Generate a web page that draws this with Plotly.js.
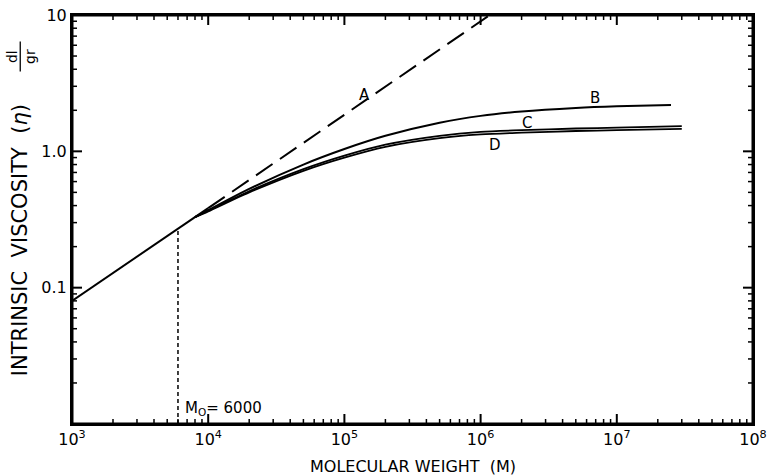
<!DOCTYPE html>
<html>
<head>
<meta charset="utf-8">
<script src="https://cdn.plot.ly/plotly-3.0.1.min.js"></script>
<style>html,body{margin:0;padding:0;background:#fff;}#chart{width:767px;height:476px;}</style>
</head>
<body>
<div id="chart"></div>
<script>
// Line A (Mark-Houwink straight line), solid part and dashed extension
const aSolidM = [1000, 10000];
const aSolidEta = [0.08, 0.383];
const aDashM = [10000, 1170000];
const aDashEta = [0.383, 10];

// Curve B
const bM = [8000, 10000, 20000, 50000, 100000, 200000, 500000, 1000000, 2000000, 5000000, 10000000, 25000000];
const bEta = [0.329, 0.37, 0.53, 0.80, 1.04, 1.30, 1.62, 1.82, 1.96, 2.08, 2.14, 2.19];

// Curve C
const cM = [8000, 10000, 20000, 50000, 100000, 200000, 500000, 1000000, 2000000, 5000000, 10000000, 30000000];
const cEta = [0.329, 0.367, 0.51, 0.74, 0.93, 1.12, 1.30, 1.39, 1.43, 1.47, 1.49, 1.53];

// Curve D
const dM = [8000, 10000, 20000, 50000, 100000, 200000, 500000, 1000000, 2000000, 5000000, 10000000, 30000000];
const dEta = [0.329, 0.363, 0.50, 0.72, 0.90, 1.08, 1.25, 1.33, 1.37, 1.41, 1.43, 1.46];

// Mo = 6000 marker
const moM = [6000, 6000];
const moEta = [0.01, 0.27];

const xTickVals = [1e3, 1e4, 1e5, 1e6, 1e7, 1e8];
const xTickText = ['10<sup>3</sup>', '10<sup>4</sup>', '10<sup>5</sup>', '10<sup>6</sup>', '10<sup>7</sup>', '10<sup>8</sup>'];
const yTickVals = [0.01, 0.1, 1, 10];
const yTickText = ['', '0.1', '1.0', '10'];

const X_RANGE = [3, 8];
const Y_RANGE = [-2, 1];
const W = 767, H = 476;
const M = {l: 72, r: 14, t: 15, b: 52};
const PW = W - M.l - M.r, PH = H - M.t - M.b;

// minor tick positions (2..9 within each decade)
function minorVals(startExp, endExp) {
  const v = [];
  for (let e = startExp; e < endExp; e++) {
    for (let k = 2; k <= 9; k++) v.push(k * Math.pow(10, e));
  }
  return v;
}

// inward tick marks on all four sides, one short two-point trace per mark
function tickTraces(xVals, yVals, lenPx, width) {
  const out = [];
  const dy = lenPx / PH * (Y_RANGE[1] - Y_RANGE[0]);
  const dx = lenPx / PW * (X_RANGE[1] - X_RANGE[0]);
  const yb = Math.pow(10, Y_RANGE[0]), yt = Math.pow(10, Y_RANGE[1]);
  const xl = Math.pow(10, X_RANGE[0]), xr = Math.pow(10, X_RANGE[1]);
  const ln = {color: '#000', width: width, simplify: false};
  function seg(x, y) { out.push({x: x, y: y, mode: 'lines', line: ln, hoverinfo: 'skip', cliponaxis: false}); }
  xVals.forEach(function(v) {
    const lv = Math.log10(v);
    if (lv <= X_RANGE[0] + 1e-6 || lv >= X_RANGE[1] - 1e-6) return;
    seg([v, v], [yb, Math.pow(10, Y_RANGE[0] + dy)]);
    seg([v, v], [yt, Math.pow(10, Y_RANGE[1] - dy)]);
  });
  yVals.forEach(function(v) {
    const lv = Math.log10(v);
    if (lv <= Y_RANGE[0] + 1e-6 || lv >= Y_RANGE[1] - 1e-6) return;
    seg([xl, Math.pow(10, X_RANGE[0] + dx)], [v, v]);
    seg([xr, Math.pow(10, X_RANGE[1] - dx)], [v, v]);
  });
  return out;
}

const FONT = 'DejaVu Sans, Liberation Sans, Arial, sans-serif';
const solid = {color: '#000', width: 2};

const xl0 = Math.pow(10, X_RANGE[0]), xr0 = Math.pow(10, X_RANGE[1]);
const yb0 = Math.pow(10, Y_RANGE[0]), yt0 = Math.pow(10, Y_RANGE[1]);
const frameSides = [
  [[xl0, xr0], [yb0, yb0]],
  [[xr0, xr0], [yb0, yt0]],
  [[xl0, xr0], [yt0, yt0]],
  [[xl0, xl0], [yb0, yt0]]
];

const traces = [
  {x: aSolidM, y: aSolidEta, mode: 'lines', line: solid},
  {x: aDashM, y: aDashEta, mode: 'lines', line: {color: '#000', width: 2, dash: '20px,9px'}},
  {x: bM, y: bEta, mode: 'lines', line: {color: '#000', width: 2, shape: 'spline', smoothing: 0.8}},
  {x: cM, y: cEta, mode: 'lines', line: {color: '#000', width: 1.8, shape: 'spline', smoothing: 0.8}},
  {x: dM, y: dEta, mode: 'lines', line: {color: '#000', width: 1.8, shape: 'spline', smoothing: 0.8}},
  {x: moM, y: moEta, mode: 'lines', line: {color: '#000', width: 1.5, dash: '4px,3px'}}
].concat(
  tickTraces(xTickVals, yTickVals, 10, 2),
  tickTraces(minorVals(3, 8), minorVals(-2, 1), 5, 1.5),
  frameSides.map(function(s) {
    return {x: s[0], y: s[1], mode: 'lines', line: {color: '#000', width: 3}, hoverinfo: 'skip', cliponaxis: false};
  })
);

function axis(range, tv, tt) {
  return {
    type: 'log', range: range, showgrid: false, zeroline: false,
    showline: true, linecolor: '#000', linewidth: 2, mirror: true,
    ticks: '',
    tickmode: 'array', tickvals: tv, ticktext: tt,
    tickfont: {family: FONT, size: 16, color: '#000'}
  };
}

const layout = {
  width: W,
  height: H,
  margin: M,
  paper_bgcolor: '#fff',
  plot_bgcolor: '#fff',
  showlegend: false,
  font: {family: FONT, color: '#000'},
  xaxis: axis(X_RANGE, xTickVals, xTickText),
  yaxis: axis(Y_RANGE, yTickVals, yTickText),
  annotations: [
    {xref: 'paper', yref: 'paper', x: 0.5, y: -0.105, text: 'MOLECULAR\u00a0WEIGHT\u00a0\u00a0(M)', showarrow: false,
     font: {family: FONT, size: 16, color: '#000'}, xanchor: 'center', yanchor: 'middle'},
    {xref: 'paper', yref: 'paper', x: -0.076, y: 0.45, text: 'INTRINSIC\u00a0\u00a0VISCOSITY\u00a0\u00a0(<i>η</i>)', showarrow: false,
     textangle: -90, font: {family: FONT, size: 21, color: '#000'}, xanchor: 'center', yanchor: 'middle'},
    {xref: 'paper', yref: 'paper', x: -0.076, y: 0.898, text: 'dl<br>gr', showarrow: false,
     textangle: -90, font: {family: FONT, size: 14, color: '#000'}, xanchor: 'center', yanchor: 'middle'},
    {x: Math.log10(1.4e5), y: Math.log10(2.6), text: 'A', showarrow: false, font: {family: FONT, size: 15, color: '#000'}},
    {x: Math.log10(6.9e6), y: Math.log10(2.45), text: 'B', showarrow: false, font: {family: FONT, size: 15, color: '#000'}},
    {x: Math.log10(2.18e6), y: Math.log10(1.61), text: 'C', showarrow: false, font: {family: FONT, size: 15, color: '#000'}},
    {x: Math.log10(1.28e6), y: Math.log10(1.11), text: 'D', showarrow: false, font: {family: FONT, size: 15, color: '#000'}},
    {x: Math.log10(6500), y: Math.log10(0.0131), text: 'M<sub>O</sub>= 6000', showarrow: false, xanchor: 'left',
     font: {family: FONT, size: 15, color: '#000'}}
  ],
  shapes: [
    {type: 'line', xref: 'paper', yref: 'paper', x0: -0.076, x1: -0.076, y0: 0.862, y1: 0.935, line: {color: '#000', width: 1.3}}
  ]
};

Plotly.newPlot('chart', traces, layout, {displayModeBar: false, staticPlot: true});
</script>
</body>
</html>
